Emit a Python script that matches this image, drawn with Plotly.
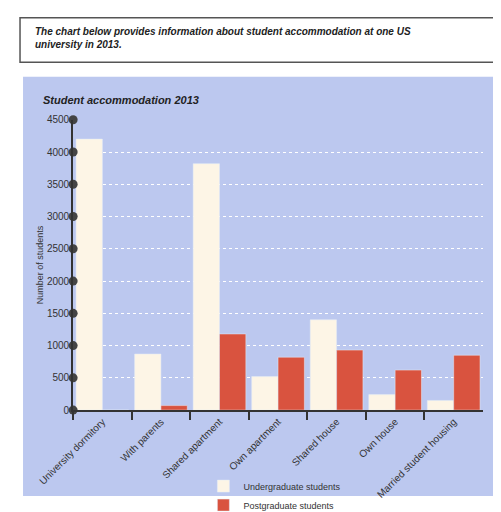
import plotly.graph_objects as go

categories = ["University dormitory", "With parents", "Shared apartment", "Own apartment",
              "Shared house", "Own house", "Married student housing"]
undergrad = [4200, 870, 3820, 520, 1400, 240, 150]
postgrad = [0, 70, 1180, 820, 930, 620, 850]
yticks = [0, 500, 1000, 1500, 2000, 2500, 3000, 3500, 4000, 4500]

fig = go.Figure()
fig.add_bar(x=categories, y=undergrad, name="Undergraduate students", marker_color="#fdf5e6")
fig.add_bar(x=categories, y=postgrad, name="Postgraduate students", marker_color="#d9533f")
fig.add_scatter(x=[0]*len(yticks), y=yticks, xaxis="x2", mode="markers", cliponaxis=False,
                marker=dict(size=9, color="#444"), showlegend=False, hoverinfo="skip")

fig.update_layout(
    width=501, height=512, margin=dict(l=0, r=0, t=0, b=0),
    paper_bgcolor="white", plot_bgcolor="rgba(0,0,0,0)",
    font=dict(family="Liberation Sans Narrow, Arial Narrow, Liberation Sans", color="#333", size=10),
    bargap=0.1, bargroupgap=0.0,
    xaxis=dict(domain=[0.13, 0.948], tickangle=-45, tickson="boundaries", ticks="outside",
               ticklen=8, tickwidth=2, tickcolor="#333", showline=True, linecolor="#333",
               linewidth=2, showgrid=False, tickfont=dict(size=10), automargin=False),
    xaxis2=dict(domain=[0.13, 0.948], range=[0, 1], overlaying="x", visible=False),
    yaxis=dict(domain=[0.176, 0.771], range=[0, 4500], tickvals=yticks, showline=True,
               linecolor="#333", linewidth=2, gridcolor="white", griddash="dot",
               zeroline=False, ticks="", tickfont=dict(size=10), automargin=False,
               title=dict(text="Number of students", font=dict(size=9), standoff=2)),
    legend=dict(x=0.39, y=0.05, xanchor="left", yanchor="top", bgcolor="rgba(0,0,0,0)",
                font=dict(size=9), tracegroupgap=4),
    shapes=[
        dict(type="rect", xref="paper", yref="paper", x0=0.03, x1=0.988, y0=0, y1=0.859,
             fillcolor="#bcc8ef", line=dict(width=0), layer="below"),
        dict(type="rect", xref="paper", yref="paper", x0=0.024, x1=0.978, y0=0.889, y1=0.98,
             fillcolor="white", line=dict(width=1.5, color="#555")),
    ],
    annotations=[
        dict(xref="paper", yref="paper", x=0.05, y=0.968, xanchor="left", yanchor="top",
             align="left", showarrow=False,
             text="<b><i>The chart below provides information about student accommodation at one US<br>university in 2013.</i></b>",
             font=dict(size=10, family="Liberation Sans", color="#222")),
        dict(xref="paper", yref="paper", x=0.065, y=0.828, xanchor="left", yanchor="top",
             showarrow=False, text="<b><i>Student accommodation 2013</i></b>",
             font=dict(size=11, family="Liberation Sans", color="#222")),
    ],
)
fig.write_html("out.html")
